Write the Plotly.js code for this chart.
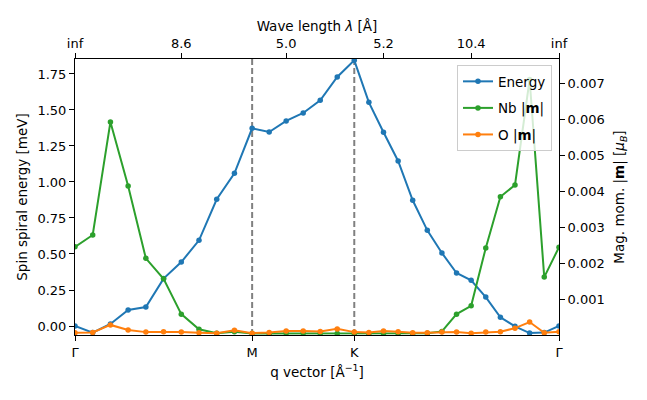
<!DOCTYPE html>
<html>
<head>
<meta charset="utf-8">
<script src="https://cdn.plot.ly/plotly-3.0.1.min.js"></script>
<style>html,body{margin:0;padding:0;background:#fff;}#chart{width:647px;height:400px;}</style>
</head>
<body>
<div id="chart"></div>
<script>
// q-path coordinate (fraction of Γ-M-K-Γ path length)
const qPath = [0.0000, 0.0366, 0.0732, 0.1098, 0.1464, 0.1830, 0.2196, 0.2562, 0.2928, 0.3294, 0.3660,
               0.4012, 0.4363, 0.4715, 0.5067, 0.5418, 0.5770,
               0.6072, 0.6374, 0.6676, 0.6977, 0.7279, 0.7581, 0.7883, 0.8185, 0.8487, 0.8789, 0.9091, 0.9393, 0.9695, 1.0000];
const energy = [0.000, -0.046, 0.014, 0.111, 0.132, 0.329, 0.444, 0.595, 0.880, 1.060, 1.373,
                1.347, 1.424, 1.479, 1.567, 1.729, 1.845,
                1.553, 1.345, 1.146, 0.873, 0.664, 0.507, 0.368, 0.317, 0.201, 0.060, -0.002, -0.049, -0.046, 0.000];
const nbMag = [0.00245, 0.00278, 0.00592, 0.00414, 0.00213, 0.00156, 0.00058, 0.00016, 0.00005, 0.00009, 0.00004,
               0.00004, 0.00005, 0.00005, 0.00004, 0.00004, 0.00004,
               0.00004, 0.00004, 0.00004, 0.00004, 0.00005, 0.00010, 0.00058, 0.00081, 0.00242, 0.00384, 0.00417, 0.00710, 0.00161, 0.00244];
const oMag = [0.00006, 0.00007, 0.00028, 0.00014, 0.00008, 0.00009, 0.00008, 0.00006, 0.00005, 0.00013, 0.00005,
              0.00007, 0.00011, 0.00011, 0.00010, 0.00017, 0.00008,
              0.00007, 0.00011, 0.00009, 0.00006, 0.00006, 0.00008, 0.00008, 0.00005, 0.00008, 0.00009, 0.00019, 0.00036, 0.00006, 0.00009];
const symTickVals = [0.0, 0.366, 0.577, 1.0];
const symTickText = ['Γ', 'M', 'K', 'Γ'];
const lamTickVals = [0.0, 0.2196, 0.4363, 0.6374, 0.8185, 1.0];
const lamTickText = ['inf', '8.6', '5.0', '5.2', '10.4', 'inf'];
const magTickVals = [0.001, 0.002, 0.003, 0.004, 0.005, 0.006, 0.007];

const FONT = 'DejaVu Sans, sans-serif';
const tickFont = {family: FONT, size: 13, color: '#000'};
const titleFont = {family: FONT, size: 13.5, color: '#000'};

const mk = (name, y, color, yaxis, grp) => ({
  x: qPath, y: y, name: name, type: 'scatter', mode: 'lines+markers', legendgroup: grp,
  yaxis: yaxis, line: {color: color, width: 2}, marker: {color: color, size: 5.5}
});

const data = [
  mk('Energy', energy, '#1f77b4', 'y', 'a'),
  mk('Nb |<b>m</b>|', nbMag, '#2ca02c', 'y2', 'b'),
  mk('O |<b>m</b>|', oMag, '#ff7f0e', 'y2', 'c'),
  {x: [0.5], y: [0], xaxis: 'x2', yaxis: 'y', mode: 'markers', marker: {opacity: 0}, showlegend: false, hoverinfo: 'skip'}
];

const axisCommon = {showline: true, linecolor: '#000', linewidth: 1, ticks: 'outside', ticklen: 5, tickwidth: 1,
  tickcolor: '#000', showgrid: false, zeroline: false, tickfont: tickFont};

const layout = {
  width: 647, height: 400,
  margin: {l: 75, r: 88, t: 59, b: 65, pad: 0},
  paper_bgcolor: '#fff', plot_bgcolor: '#fff',
  showlegend: true,
  legend: {x: 0.9855, xanchor: 'right', y: 0.978, yanchor: 'top', bgcolor: 'rgba(255,255,255,0.8)',
    bordercolor: '#cccccc', borderwidth: 1, traceorder: 'grouped', tracegroupgap: 6,
    font: {family: FONT, size: 13.5, color: '#000'}},
  xaxis: Object.assign({}, axisCommon, {range: [0, 1], tickvals: symTickVals, ticktext: symTickText,
    title: {text: 'q vector [Å<sup>−1</sup>]', font: titleFont, standoff: 8}}),
  xaxis2: Object.assign({}, axisCommon, {range: [0, 1], overlaying: 'x', side: 'top', tickvals: lamTickVals, ticktext: lamTickText,
    title: {text: 'Wave length <i>λ</i> [Å]', font: titleFont, standoff: 1}}),
  yaxis: Object.assign({}, axisCommon, {range: [-0.0625, 1.854], tickvals: [0, 0.25, 0.5, 0.75, 1.0, 1.25, 1.5, 1.75],
    tickformat: '.2f', title: {text: 'Spin spiral energy [meV]', font: titleFont, standoff: 6}}),
  yaxis2: Object.assign({}, axisCommon, {range: [0, 0.00767], overlaying: 'y', side: 'right', tickvals: magTickVals,
    tickformat: '.3f', title: {text: 'Mag. mom. |<b>m</b>| [<i>μ<sub>B</sub></i>]', font: titleFont, standoff: 10}}),
  shapes: [0.366, 0.577].map(v => ({type: 'line', xref: 'x', yref: 'paper', x0: v, x1: v, y0: 0, y1: 1,
    line: {color: '#808080', width: 2, dash: '6px,3px'}, layer: 'below'}))
};

Plotly.newPlot('chart', data, layout, {displayModeBar: false, staticPlot: true});
</script>
</body>
</html>
